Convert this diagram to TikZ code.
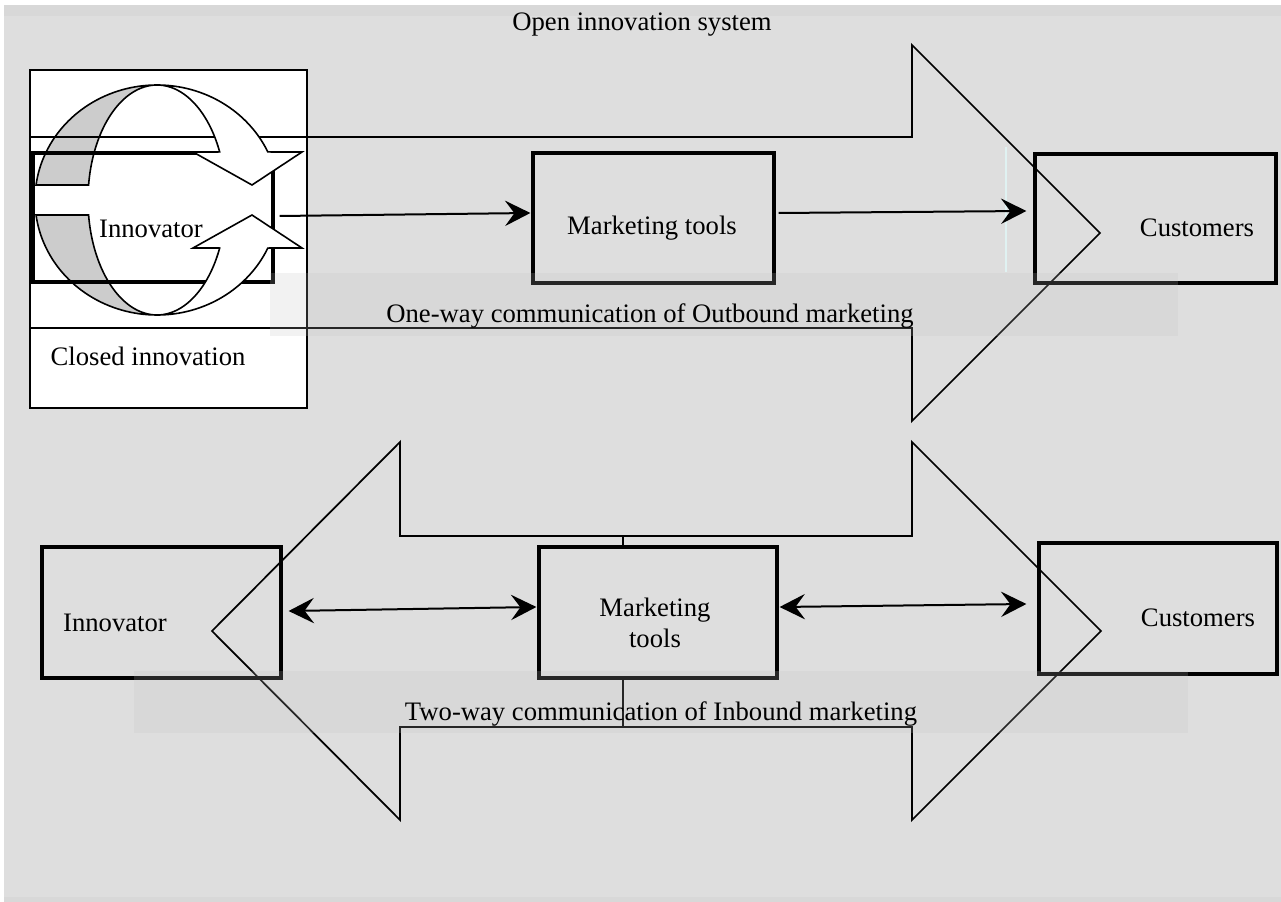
\documentclass[tikz,border=0pt]{standalone}
\usepackage{fontspec}
\setmainfont{Liberation Serif}
\usetikzlibrary{arrows.meta,fit,calc}
\definecolor{bg}{RGB}{222,222,222}
\definecolor{bgd}{RGB}{216,216,216}
\definecolor{bandc}{RGB}{192,192,192}
\definecolor{cres}{RGB}{204,204,204}
\definecolor{faint}{RGB}{224,242,242}
\begin{document}
\begin{tikzpicture}[x=0.75pt,y=-0.75pt,
  box/.style={draw=black,line width=2.4pt,inner sep=0pt},
  bigarrow/.style={draw=black,line width=1.3pt,line join=miter},
  conn/.style={line width=1.5pt,-{Stealth[length=19pt,width=19pt,inset=7pt]}},
  dconn/.style={line width=1.5pt,{Stealth[length=19pt,width=19pt,inset=7pt]}-{Stealth[length=19pt,width=19pt,inset=7pt]}},
  txt/.style={font=\fontsize{20}{23}\selectfont,inner sep=0pt},
  band/.style={fill=bandc,fill opacity=0.2,draw=none},
  curved/.style={line width=1.2pt,line join=miter,draw=black}
]
\useasboundingbox (0,0) rectangle (1281,902);
\fill[white] (0,0) rectangle (1281,902);
\fill[bg] (4,5) rectangle (1281,897);
\fill[bgd] (4,5) rectangle (1281,16);
\fill[bgd] (4,897) rectangle (1281,902);

% ---------- top part ----------
\node[draw=black,line width=1.3pt,fill=white,inner sep=0pt,fit={(30,70) (307,408)}] (closed) {};

% gray back faces of the curved arrows
\filldraw[curved,fill=cres] plot[domain=-90:-172.5,samples=40] ({157+122*cos(\x)},{200+115*sin(\x)})
  -- plot[domain=-172.5:-90,samples=40] ({157+69*cos(\x)},{200+115*sin(\x)}) -- cycle;
\filldraw[curved,fill=cres] plot[domain=90:172.5,samples=40] ({157+122*cos(\x)},{200+115*sin(\x)})
  -- plot[domain=172.5:90,samples=40] ({157+69*cos(\x)},{200+115*sin(\x)}) -- cycle;

\node[box,fit={(33,153) (273,282)}] (inn1) {};
\node[box,fit={(533,153) (774,283)}] (mt1) {};
\node[box,fit={(1035,154) (1276,283)}] (cu1) {};

\draw[bigarrow] (30,137) -- (912,137) -- (912,45) -- (1100,233) -- (912,421) -- (912,328) -- (30,328) -- cycle;
\draw[faint,line width=1pt] (1006,147) -- (1006,272);

\fill[band] (270,273) rectangle (1178,336);

% white fronts of the curved arrows
\filldraw[curved,fill=white] plot[domain=-90:-24.7,samples=40] ({157+122*cos(\x)},{200+115*sin(\x)})
  -- (302,152) -- (252,185) -- (193,152)
  -- plot[domain=-24.7:-90,samples=40] ({157+69*cos(\x)},{200+115*sin(\x)}) -- cycle;
\filldraw[curved,fill=white] plot[domain=90:24.7,samples=40] ({157+122*cos(\x)},{200+115*sin(\x)})
  -- (302,248) -- (252,215) -- (193,248)
  -- plot[domain=24.7:90,samples=40] ({157+69*cos(\x)},{200+115*sin(\x)}) -- cycle;

\draw[conn] ($(inn1.east)+(5,-1.5)$) -- ($(mt1.west)+(-1,-5)$);
\draw[conn] ($(mt1.east)+(3,-5)$) -- ($(cu1.west)+(-7,-7.5)$);

\node[txt] (topen) at (642,25) {Open innovation system};
\node[txt] (tinn1) at (151,229) {Innovator};
\node[txt] (tmt1) at (652,228) {Marketing tools};
\node[txt] (tcu1) at (1197,228) {Customers};
\node[txt] (tone) at (650,316) {One-way communication of Outbound marketing};
\node[txt] (tclosed) at (148,356) {Closed innovation};

% ---------- bottom part ----------
\draw[bigarrow] (623,536) -- (400,536) -- (400,442) -- (212,631) -- (400,820) -- (400,727) -- (623,727) -- cycle;
\draw[bigarrow] (623,536) -- (912,536) -- (912,442) -- (1101,631) -- (912,820) -- (912,727) -- (623,727) -- cycle;

\node[box,fit={(42,547) (281,678)}] (inn2) {};
\node[box,fill=bg,fit={(539,547) (777,678)}] (mt2) {};
\node[box,fit={(1039,543) (1277,674)}] (cu2) {};

\fill[band] (134,671) rectangle (1188,733);

\draw[dconn] ($(inn2.east)+(6,-1.5)$) -- ($(mt2.west)+(-1,-5.5)$);
\draw[dconn] ($(mt2.east)+(1,-5.5)$) -- ($(cu2.west)+(-11,-4.5)$);

\node[txt] (tinn2) at (115,623) {Innovator};
\node[txt,align=center] (tmt2) at (655,623) {Marketing\\tools};
\node[txt] (tcu2) at (1198,618) {Customers};
\node[txt] (ttwo) at (661,714) {Two-way communication of Inbound marketing};
\end{tikzpicture}
\end{document}
